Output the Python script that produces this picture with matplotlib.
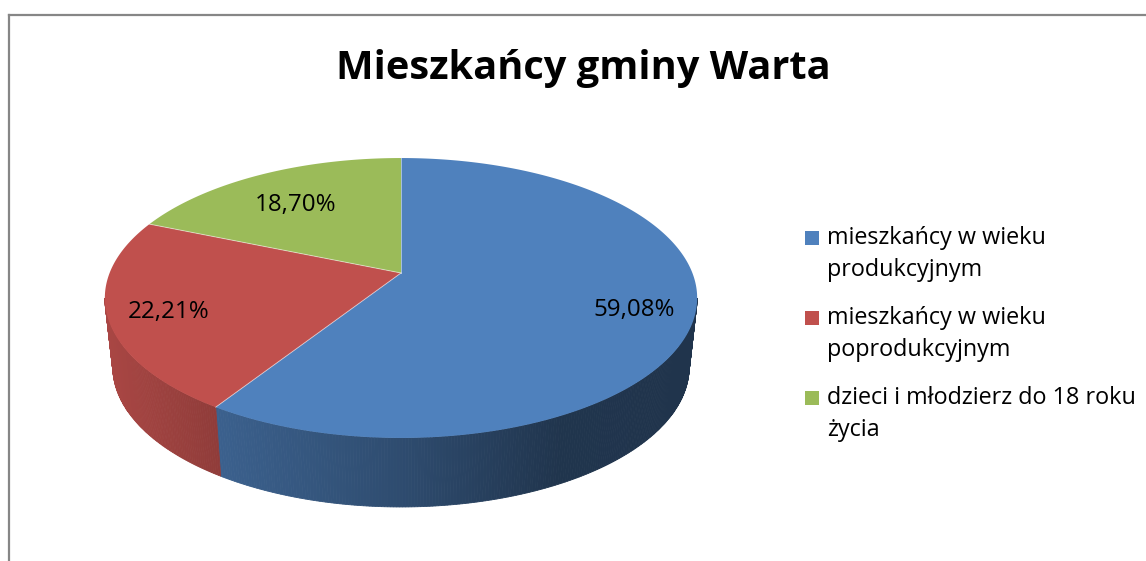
import numpy as np
import matplotlib.pyplot as plt
from matplotlib.patches import Polygon, Rectangle
from matplotlib.colors import to_rgb

title = 'Mieszkańcy gminy Warta'
categories = ['mieszkańcy w wieku\nprodukcyjnym',
              'mieszkańcy w wieku\npoprodukcyjnym',
              'dzieci i młodzierz do 18 roku\nżycia']
shares = [59.08, 22.21, 18.70]
labels = ['59,08%', '22,21%', '18,70%']
colors = ['#4F81BD', '#C0504D', '#9BBB59']

plt.rcParams['font.family'] = ['Open Sans', 'DejaVu Sans']

# 3d pie geometry (pixels), simple perspective on the disk
cx, cy = 401, 273
A, B, k = 291.4, 135.5, 0.1786
depth = 69
shrink = 0.973  # bottom rim is a bit narrower


def proj(theta, r=1.0):
    t = np.radians(theta)
    u = r * np.sin(t)
    v = -r * np.cos(t)
    w = 1 - k * v
    return cx + A * u / w, cy + B * v / w


def bottom(x, y):
    return cx + (x - cx) * shrink, y + depth


def shade(x):
    return np.interp(x, [105, 216, 400, 480, 560, 697],
                     [0.88, 0.75, 0.59, 0.50, 0.41, 0.40])


fig = plt.figure(figsize=(11.46, 5.61), dpi=100)
ax = fig.add_axes([0, 0, 1, 1])
ax.set_xlim(0, 1146)
ax.set_ylim(561, 0)
ax.axis('off')

# frame
ax.plot([9, 9], [561, 15], color='#868686', lw=1.6)
ax.plot([9, 1146], [15, 15], color='#868686', lw=1.6)

bounds = np.concatenate([[0], np.cumsum(shares) / sum(shares) * 360])
vis0 = np.degrees(np.arccos(-k))
vis1 = 360 - vis0

# side walls
for i in range(len(shares)):
    a0 = max(bounds[i], vis0)
    a1 = min(bounds[i + 1], vis1)
    if a1 <= a0:
        continue
    th = np.linspace(a0, a1, int((a1 - a0) * 2) + 2)
    for j in range(len(th) - 1):
        x0, y0 = proj(th[j])
        x1, y1 = proj(th[j + 1])
        c = np.array(to_rgb(colors[i])) * shade((x0 + x1) / 2)
        ax.add_patch(Polygon([[x0, y0], [x1, y1], bottom(x1, y1), bottom(x0, y0)],
                             closed=True, fc=c, ec=c, lw=0.6))

# top faces
for i in range(len(shares)):
    th = np.linspace(bounds[i], bounds[i + 1], 300)
    xs, ys = proj(th)
    pts = [[cx, cy]] + list(zip(xs, ys))
    ax.add_patch(Polygon(pts, closed=True, fc=colors[i], ec='none'))
for b in bounds[:-1]:
    x, y = proj(b)
    ax.plot([cx, x], [cy, y], color='white', lw=0.7, alpha=0.5)

# data labels
label_r = [0.8, 0.8, 0.72]
for i in range(len(shares)):
    mid = (bounds[i] + bounds[i + 1]) / 2
    x, y = proj(mid, label_r[i])
    ax.text(x, y + 5, labels[i], fontsize=17.4, ha='center', va='center', color='black')

ax.text(583, 79, title, fontsize=28.6, fontweight='bold', ha='center', va='baseline')

# legend
for i in range(len(categories)):
    y = 238 + 80 * i
    ax.add_patch(Rectangle((805, y - 7), 14, 14, fc=colors[i], ec='none'))
    for j, line in enumerate(categories[i].split('\n')):
        ax.text(827, y + 32 * j, line, fontsize=16.8, ha='left', va='center')

fig.savefig('out.png', dpi=100)
